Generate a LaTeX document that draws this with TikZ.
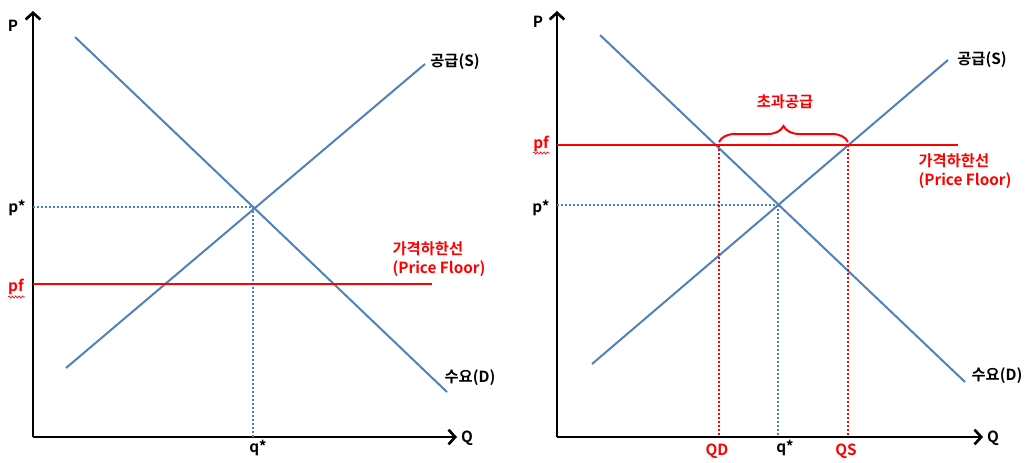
\documentclass[tikz,border=0pt]{standalone}
\usepackage{fontspec}
\setmainfont{Noto Sans CJK KR}[BoldFont={Noto Sans CJK KR Bold}]
\usetikzlibrary{arrows.meta,decorations.pathreplacing,decorations.pathmorphing}
\definecolor{curveblue}{RGB}{79,129,189}
\tikzset{
  axis/.style={line width=2.2pt, -{Straight Barb[length=5pt,width=11pt,line width=2pt]}},
  curve/.style={draw=curveblue, line width=1.5pt},
  guide/.style={draw=curveblue, line width=1.5pt, dash pattern=on 1.5pt off 1.5pt},
  floor/.style={draw=red, line width=2.2pt},
  floorguide/.style={draw=red, line width=1.5pt, dash pattern=on 1.5pt off 1.5pt},
  lbl/.style={font=\bfseries\fontsize{11.5}{14}\selectfont, inner sep=1pt},
  redlbl/.style={lbl, text=red},
  squiggle/.style={draw=red, line width=0.5pt, decorate,
    decoration={snake, amplitude=0.8pt, segment length=2.5pt}},
}
\begin{document}
\begin{tikzpicture}[x=0.75pt, y=-0.75pt]
\useasboundingbox (0,0) rectangle (1031,462);
% left panel: floor below p*
\coordinate (O1) at (33,437);
\coordinate (E1) at (253,207);
\coordinate (F1) at (33,284);
\draw[axis] (O1) -- (33,11);
\draw[axis] (O1) -- (457,437);
\node[lbl] (P1) at (13,26) {P};
\node[lbl] (Q1) at (467,438) {Q};
\draw[curve] (66,368) -- (425,64);
\draw[curve] (75,37) -- (447,392);
\node[lbl] (S1) at (455,62) {공급(S)};
\node[lbl] (D1) at (470,378) {수요(D)};
\node[lbl] (ps1) at (17,208) {p*};
\node[lbl] (qs1) at (258,448) {q*};
\draw[guide] (E1 -| O1) -- (E1);
\draw[guide] (E1) -- (E1 |- O1);
\node[redlbl] (pf1) at (16,287) {pf};
\draw[squiggle] (8,297) -- (25,297);
\draw[floor] (F1) -- (432,284);
\node[redlbl, align=left, anchor=west] (PF1) at (391,259) {가격하한선\\(Price Floor)};
% right panel: floor above p*
\coordinate (O2) at (557,437);
\coordinate (E2) at (778,205);
\coordinate (F2) at (557,145);
\coordinate (A2) at (719,145);
\coordinate (B2) at (848,145);
\draw[axis] (O2) -- (557,11);
\draw[axis] (O2) -- (983,437);
\node[lbl] (P2) at (538,22) {P};
\node[lbl] (Q2) at (993,438) {Q};
\draw[curve] (592,364) -- (948,60);
\draw[curve] (600,35) -- (965,382);
\node[lbl] (S2) at (982,60) {공급(S)};
\node[lbl] (D2) at (997,376) {수요(D)};
\node[lbl] (ps2) at (541,208) {p*};
\node[lbl] (qs2) at (785,448) {q*};
\draw[guide] (E2 -| O2) -- (E2);
\draw[guide] (E2) -- (E2 |- O2);
\node[redlbl] (pf2) at (541,144) {pf};
\draw[squiggle] (533,153) -- (550,153);
\draw[floor] (F2) -- (958,145);
\node[redlbl, align=left, anchor=west] (PF2) at (917,171) {가격하한선\\(Price Floor)};
\node[redlbl] (QD) at (717,451) {QD};
\node[redlbl] (QS) at (846,451) {QS};
\draw[floorguide] (A2) -- (A2 |- O2);
\draw[floorguide] (B2) -- (B2 |- O2);
\draw[draw=red, line width=1.5pt, decorate, decoration={brace, amplitude=12pt}]
  (719,142) -- (848,142);
\node[redlbl] (XS) at (785,102) {초과공급};
\end{tikzpicture}
\end{document}
